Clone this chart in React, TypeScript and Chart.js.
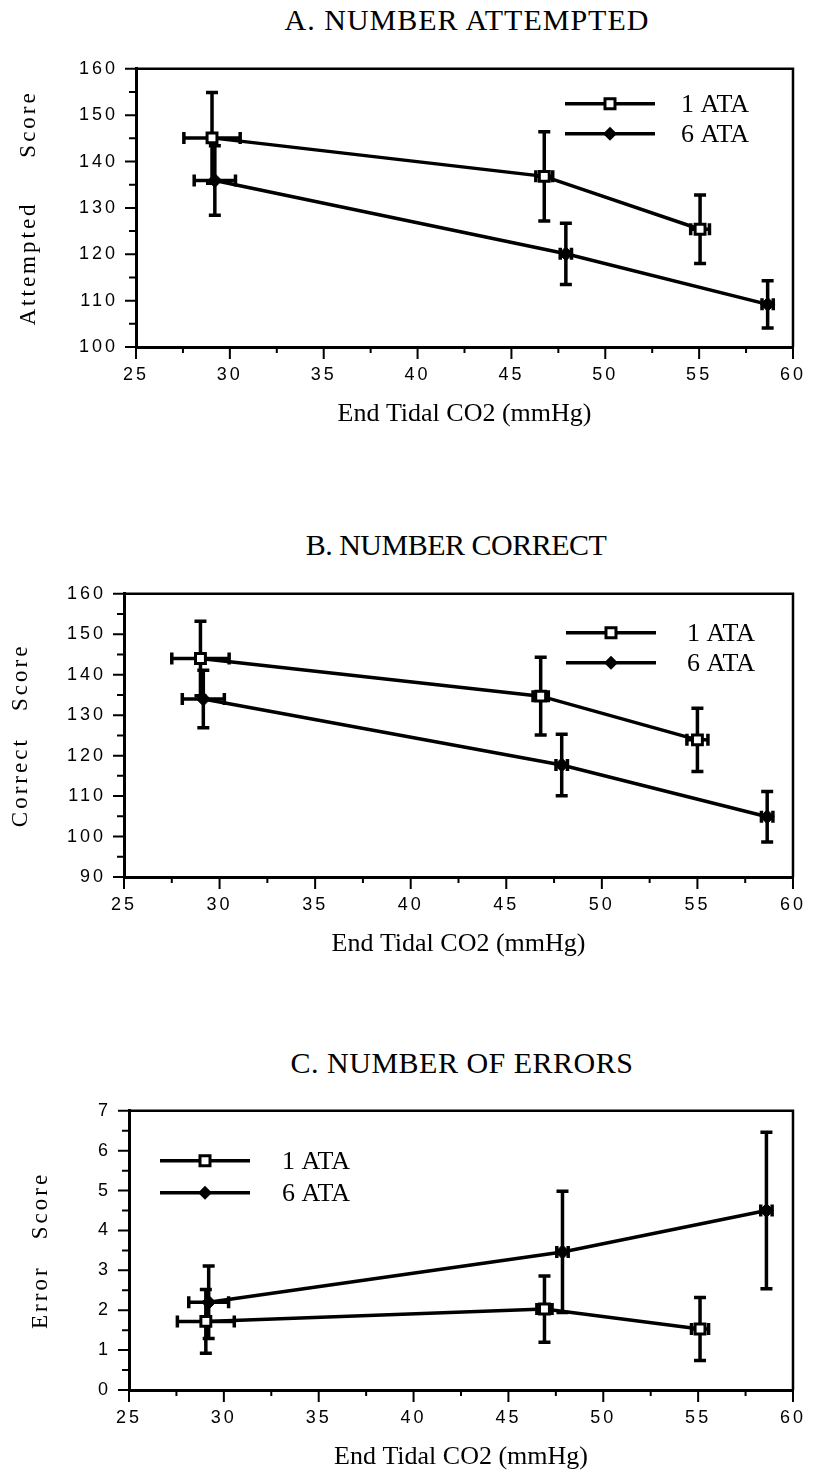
import React, { useEffect, useRef } from "react";
import { Chart, registerables } from "chart.js";

Chart.register(...registerables);

// ---------- data ----------
const seriesLabels = ["1 ATA", "6 ATA"];
const xAxisTitle = "End Tidal CO2 (mmHg)";
const xRange = [25, 60];
const xTickStep = 2.5;
const xLabelEvery = 5;

// A. Number attempted
const attX1 = [29.05, 46.75, 55.05];
const attY1 = [145.1, 136.8, 125.4];
const attXErr1 = [1.5, 0.45, 0.5];
const attYErr1 = [9.8, 9.65, 7.4];
const attX6 = [29.2, 47.9, 58.65];
const attY6 = [135.9, 120.1, 109.2];
const attXErr6 = [1.1, 0.3, 0.3];
const attYErr6 = [7.5, 6.6, 5.1];

// B. Number correct
const corX1 = [29.0, 46.8, 55.0];
const corY1 = [144.0, 134.7, 123.9];
const corXErr1 = [1.5, 0.4, 0.55];
const corYErr1 = [9.2, 9.6, 7.8];
const corX6 = [29.15, 47.9, 58.65];
const corY6 = [134.0, 117.7, 104.9];
const corXErr6 = [1.1, 0.3, 0.3];
const corYErr6 = [7.1, 7.6, 6.25];

// C. Number of errors
const errX1 = [29.05, 46.9, 55.1];
const errY1 = [1.72, 2.03, 1.53];
const errXErr1 = [1.5, 0.4, 0.45];
const errYErr1 = [0.8, 0.83, 0.79];
const errX6 = [29.2, 47.85, 58.6];
const errY6 = [2.2, 3.46, 4.5];
const errXErr6 = [1.05, 0.3, 0.3];
const errYErr6 = [0.91, 1.52, 1.96];

// ---------- panels ----------
const panels = [
  {
    title: "A. NUMBER ATTEMPTED",
    titleCx: 467,
    titleCy: 20,
    titleSpacing: 1,
    yTitle: "Attempted     Score",
    yTitlePad: 15,
    yRange: [100, 160],
    yStep: 5,
    yLabelEvery: 10,
    series: [
      { x: attX1, y: attY1, xe: attXErr1, ye: attYErr1 },
      { x: attX6, y: attY6, xe: attXErr6, ye: attYErr6 },
    ],
    top: 40,
    height: 400,
    padTop: 13,
    padRight: 16,
    left: 136,
    xScaleH: 93,
    xTitlePad: 10,
    legend: { fromRight: true, dx: 228, dy: [35, 65], textDx: 116 },
  },
  {
    title: "B. NUMBER CORRECT",
    titleCx: 456,
    titleCy: 545,
    titleSpacing: -0.5,
    yTitle: "Correct   Score",
    yTitlePad: 7,
    yRange: [90, 160],
    yStep: 5,
    yLabelEvery: 10,
    series: [
      { x: corX1, y: corY1, xe: corXErr1, ye: corYErr1 },
      { x: corX6, y: corY6, xe: corXErr6, ye: corYErr6 },
    ],
    top: 565,
    height: 400,
    padTop: 13,
    padRight: 25,
    left: 124,
    xScaleH: 88,
    xTitlePad: 5,
    legend: { fromRight: true, dx: 227, dy: [39, 69], textDx: 121 },
  },
  {
    title: "C. NUMBER OF ERRORS",
    titleCx: 462,
    titleCy: 1063,
    titleSpacing: 0.5,
    yTitle: "Error   Score",
    yTitlePad: 27,
    yRange: [0, 7],
    yStep: 0.5,
    yLabelEvery: 1,
    series: [
      { x: errX1, y: errY1, xe: errXErr1, ye: errYErr1 },
      { x: errX6, y: errY6, xe: errXErr6, ye: errYErr6 },
    ],
    top: 1082,
    height: 395,
    padTop: 13,
    padRight: 17,
    left: 129,
    xScaleH: 87,
    xTitlePad: 4,
    legend: { fromRight: false, dx: 31, dy: [50, 82], textDx: 122 },
  },
];

const pointStyles = ["rect", "rectRot"];

// ---------- plugins ----------
const spacingPlugin = {
  id: "spacing",
  beforeDraw(chart: any) {
    (chart.ctx as any).letterSpacing = "3px";
  },
  beforeDatasetsDraw(chart: any) {
    (chart.ctx as any).letterSpacing = "0px";
  },
};

const framePlugin = {
  id: "frame",
  beforeDatasetsDraw(chart: any) {
    const { ctx, chartArea } = chart;
    ctx.save();
    ctx.strokeStyle = "#000";
    ctx.lineWidth = 2.5;
    ctx.beginPath();
    ctx.moveTo(chartArea.left, chartArea.top);
    ctx.lineTo(chartArea.right, chartArea.top);
    ctx.lineTo(chartArea.right, chartArea.bottom);
    ctx.stroke();
    ctx.restore();
  },
};

// major (labelled) ticks long, minor ticks short, drawn from the scales' own ticks
const tickMarkPlugin = {
  id: "tickMarks",
  beforeDatasetsDraw(chart: any) {
    const { ctx, chartArea } = chart;
    const xs = chart.scales.x;
    const ys = chart.scales.y;
    ctx.save();
    ctx.strokeStyle = "#000";
    ctx.lineWidth = 2;
    ctx.beginPath();
    xs.ticks.forEach((t: any) => {
      const px = xs.getPixelForValue(t.value);
      const len = t.label !== "" ? 12 : 6;
      ctx.moveTo(px, chartArea.bottom);
      ctx.lineTo(px, chartArea.bottom + len);
    });
    ys.ticks.forEach((t: any) => {
      const py = ys.getPixelForValue(t.value);
      const len = t.label !== "" ? 11 : 7;
      ctx.moveTo(chartArea.left - len, py);
      ctx.lineTo(chartArea.left, py);
    });
    ctx.stroke();
    ctx.restore();
  },
};

const errorBarPlugin = {
  id: "errorBars",
  beforeDatasetsDraw(chart: any) {
    const { ctx } = chart;
    const xs = chart.scales.x;
    const ys = chart.scales.y;
    const cap = 6;
    ctx.save();
    ctx.strokeStyle = "#000";
    ctx.lineWidth = 3.5;
    chart.data.datasets.forEach((ds: any) => {
      ds.data.forEach((p: any, i: number) => {
        const xe = ds.xErr[i];
        const ye = ds.yErr[i];
        const cx = xs.getPixelForValue(p.x);
        const cy = ys.getPixelForValue(p.y);
        const yT = ys.getPixelForValue(p.y + ye);
        const yB = ys.getPixelForValue(p.y - ye);
        const xL = xs.getPixelForValue(p.x - xe);
        const xR = xs.getPixelForValue(p.x + xe);
        ctx.beginPath();
        ctx.moveTo(cx, yT);
        ctx.lineTo(cx, yB);
        ctx.moveTo(cx - cap, yT);
        ctx.lineTo(cx + cap, yT);
        ctx.moveTo(cx - cap, yB);
        ctx.lineTo(cx + cap, yB);
        ctx.moveTo(xL, cy);
        ctx.lineTo(xR, cy);
        ctx.moveTo(xL, cy - cap);
        ctx.lineTo(xL, cy + cap);
        ctx.moveTo(xR, cy - cap);
        ctx.lineTo(xR, cy + cap);
        ctx.stroke();
      });
    });
    ctx.restore();
  },
};

function drawMarker(ctx: CanvasRenderingContext2D, style: string, x: number, y: number) {
  ctx.save();
  ctx.lineWidth = 3;
  ctx.strokeStyle = "#000";
  if (style === "rect") {
    ctx.fillStyle = "#fff";
    ctx.beginPath();
    ctx.rect(x - 5, y - 5, 10, 10);
    ctx.fill();
    ctx.stroke();
  } else {
    ctx.fillStyle = "#000";
    ctx.beginPath();
    ctx.moveTo(x, y - 7);
    ctx.lineTo(x + 7, y);
    ctx.lineTo(x, y + 7);
    ctx.lineTo(x - 7, y);
    ctx.closePath();
    ctx.fill();
  }
  ctx.restore();
}

const insetLegendPlugin = {
  id: "insetLegend",
  afterDraw(chart: any, _args: any, opts: any) {
    const { ctx, chartArea } = chart;
    const lineLen = 90;
    const x0 = opts.fromRight ? chartArea.right - opts.dx : chartArea.left + opts.dx;
    chart.data.datasets.forEach((ds: any, i: number) => {
      const y = chartArea.top + opts.dy[i];
      ctx.save();
      (ctx as any).letterSpacing = "0px";
      ctx.strokeStyle = "#000";
      ctx.lineWidth = 3.5;
      ctx.beginPath();
      ctx.moveTo(x0, y);
      ctx.lineTo(x0 + lineLen, y);
      ctx.stroke();
      drawMarker(ctx, ds.pointStyle, x0 + lineLen / 2, y);
      ctx.fillStyle = "#000";
      ctx.font = '26px "Liberation Serif"';
      ctx.textBaseline = "middle";
      ctx.textAlign = "left";
      ctx.fillText(ds.label, x0 + opts.textDx, y + 1);
      ctx.restore();
    });
  },
};

function plainTitle(s: any) {
  if (s.__plainTitle) return;
  const orig = s.drawTitle;
  s.drawTitle = function (...a: any[]) {
    const c = this.ctx;
    const prev = c.letterSpacing;
    c.letterSpacing = "0px";
    orig.apply(this, a);
    c.letterSpacing = prev;
  };
  s.__plainTitle = true;
}

// ---------- component ----------
function Panel({ p }: { p: (typeof panels)[number] }) {
  const ref = useRef<HTMLCanvasElement | null>(null);

  useEffect(() => {
    if (!ref.current) return;
    const datasets = p.series.map((s, si) => ({
      label: seriesLabels[si],
      data: s.x.map((xv, i) => ({ x: xv, y: s.y[i] })),
      xErr: s.xe,
      yErr: s.ye,
      showLine: true,
      borderColor: "#000",
      borderWidth: 3.5,
      tension: 0,
      pointStyle: pointStyles[si],
      pointRadius: 7,
      pointBorderWidth: si === 0 ? 3 : 1,
      pointBackgroundColor: si === 0 ? "#fff" : "#000",
      pointBorderColor: "#000",
    }));

    const chart = new Chart(ref.current, {
      type: "scatter",
      data: { datasets: datasets as any },
      plugins: [spacingPlugin, framePlugin, tickMarkPlugin, errorBarPlugin, insetLegendPlugin],
      options: {
        responsive: false,
        animation: false,
        devicePixelRatio: 1,
        layout: { padding: { top: p.padTop, right: p.padRight, left: 0, bottom: 0 } },
        plugins: {
          legend: { display: false },
          tooltip: { enabled: false },
          title: { display: false },
          insetLegend: p.legend,
        } as any,
        scales: {
          x: {
            type: "linear",
            min: xRange[0],
            max: xRange[1],
            afterFit: (s: any) => {
              s.height = p.xScaleH;
              plainTitle(s);
            },
            grid: { drawOnChartArea: false, drawTicks: false },
            border: { display: true, color: "#000", width: 3 },
            ticks: {
              stepSize: xTickStep,
              autoSkip: false,
              maxRotation: 0,
              minRotation: 0,
              padding: 17,
              color: "#000",
              font: { family: "Liberation Sans", size: 18 },
              callback: (v: any) => (Math.abs(v % xLabelEvery) < 1e-6 ? String(v) : ""),
            },
            title: {
              display: true,
              text: xAxisTitle,
              color: "#000",
              font: { family: "Liberation Serif", size: 26 },
              padding: { top: 0, bottom: p.xTitlePad },
            },
          },
          y: {
            type: "linear",
            min: p.yRange[0],
            max: p.yRange[1],
            afterFit: (s: any) => {
              s.width = p.left;
            },
            grid: { drawOnChartArea: false, drawTicks: false },
            border: { display: true, color: "#000", width: 3 },
            ticks: {
              stepSize: p.yStep,
              autoSkip: false,
              padding: 18,
              color: "#000",
              font: { family: "Liberation Sans", size: 18 },
              callback: (v: any) =>
                Math.abs(v / p.yLabelEvery - Math.round(v / p.yLabelEvery)) < 1e-6 ? String(v) : "",
            },
            title: {
              display: true,
              text: p.yTitle,
              color: "#000",
              font: { family: "Liberation Serif", size: 23 },
              padding: { top: p.yTitlePad, bottom: 0 },
            },
          },
        },
      } as any,
    });
    return () => chart.destroy();
  }, [p]);

  return (
    <>
      <div
        style={{
          position: "absolute",
          left: p.titleCx,
          top: p.titleCy,
          transform: "translate(-50%, -50%)",
          whiteSpace: "nowrap",
          fontFamily: '"Liberation Serif", serif',
          fontSize: 30,
          letterSpacing: p.titleSpacing,
          lineHeight: "34px",
          color: "#000",
        }}
      >
        {p.title}
      </div>
      <canvas
        ref={ref}
        width={820}
        height={p.height}
        style={{ position: "absolute", left: 0, top: p.top, width: 820, height: p.height }}
      />
    </>
  );
}

export default function App() {
  return (
    <div
      style={{
        position: "absolute",
        left: 0,
        top: 0,
        width: 820,
        height: 1477,
        background: "#fff",
        overflow: "hidden",
      }}
    >
      {panels.map((p) => (
        <Panel key={p.title} p={p} />
      ))}
    </div>
  );
}
